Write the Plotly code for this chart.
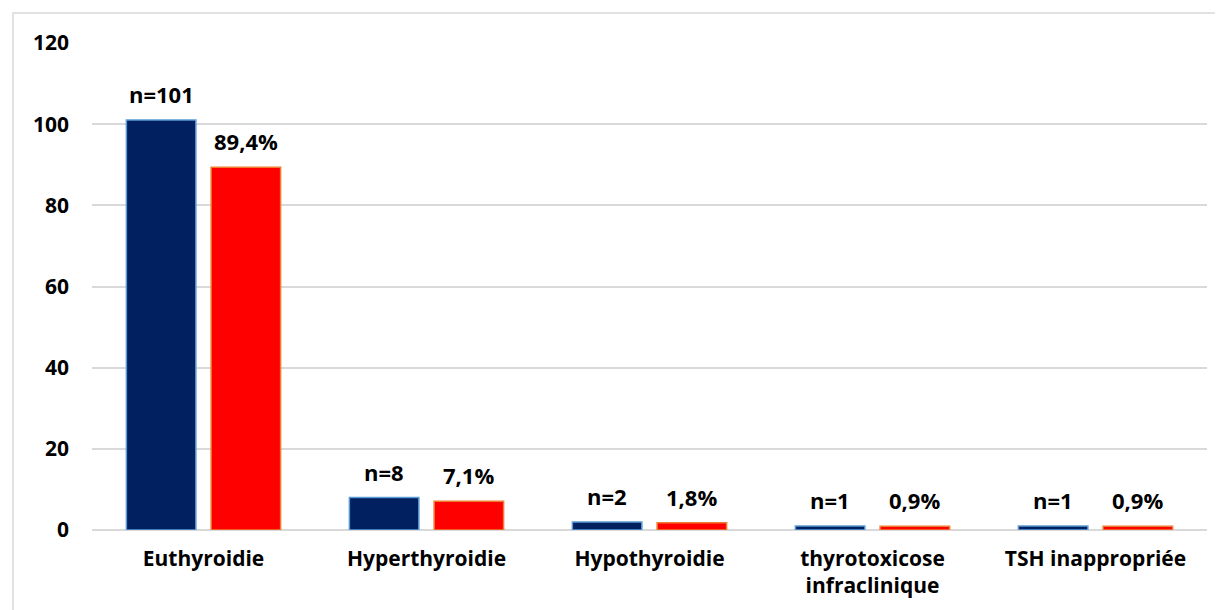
import plotly.graph_objects as go

categories = ["Euthyroidie", "Hyperthyroidie", "Hypothyroidie",
              "thyrotoxicose<br>infraclinique", "TSH inappropriée"]
counts = [101, 8, 2, 1, 1]
percents = [89.4, 7.1, 1.8, 0.9, 0.9]
count_labels = ["n=101", "n=8", "n=2", "n=1", "n=1"]
percent_labels = ["89,4%", "7,1%", "1,8%", "0,9%", "0,9%"]
y_ticks = [0, 20, 40, 60, 80, 100, 120]

BARGAP = 0.24
BARGROUPGAP = 0.18
FONT = "Open Sans"

fig = go.Figure()
fig.add_trace(go.Bar(
    x=categories, y=counts, name="n",
    marker=dict(color="#002060", line=dict(color="#5B9BD5", width=1.5)),
))
fig.add_trace(go.Bar(
    x=categories, y=percents, name="%",
    marker=dict(color="#FF0000", line=dict(color="#ED7D31", width=1.5)),
))

# data labels positioned over each bar of the group
offset = (1 - BARGAP) / 4
for i, (c, p, cl, pl) in enumerate(zip(counts, percents, count_labels, percent_labels)):
    fig.add_annotation(x=i - offset, y=c, text=cl, showarrow=False,
                       xref="x", yref="y", yanchor="bottom", yshift=9,
                       font=dict(family=FONT, size=22, color="black", weight="bold"))
    fig.add_annotation(x=i + offset, y=p, text=pl, showarrow=False,
                       xref="x", yref="y", yanchor="bottom", yshift=9,
                       font=dict(family=FONT, size=22, color="black", weight="bold"))

# outer chart frame
fig.add_shape(type="rect", xref="paper", yref="paper",
              x0=-0.0709, x1=1.03, y0=-0.3, y1=1.0616,
              line=dict(color="#D9D9D9", width=1.5), fillcolor="rgba(0,0,0,0)",
              layer="below")

fig.update_layout(
    width=1215, height=602,
    margin=dict(l=84, r=16, t=35, b=80),
    barmode="group", bargap=BARGAP, bargroupgap=BARGROUPGAP,
    plot_bgcolor="white", paper_bgcolor="white",
    showlegend=False,
    font=dict(family=FONT, color="black"),
)
fig.update_xaxes(
    type="category", showgrid=False, showline=False, zeroline=False,
    tickfont=dict(family=FONT, size=21, color="black", weight="bold"),
    ticks="", ticklabelstandoff=14, automargin=False,
)
fig.update_yaxes(
    range=[0, 120], tickvals=y_ticks, showgrid=True,
    gridcolor="#D9D9D9", gridwidth=1.5, zeroline=True,
    zerolinecolor="#D9D9D9", zerolinewidth=1.5, showline=False,
    tickfont=dict(family=FONT, size=21, color="black", weight="bold"),
    ticks="", ticklabelstandoff=22, automargin=False,
)

fig.write_html("out.html")
